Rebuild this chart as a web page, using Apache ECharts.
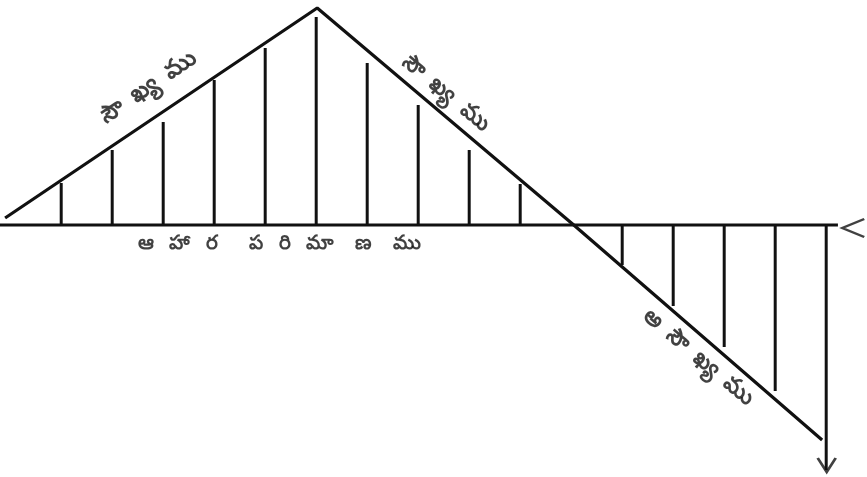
<!DOCTYPE html>
<html>
<head>
<meta charset="utf8"></meta>
<script src="https://cdn.jsdelivr.net/npm/echarts@6/dist/echarts.min.js"></script>
<style>
  body { margin: 0; background: #fff; }
  #main { width: 867px; height: 477px; }
</style>
</head>
<body>
<div id="main"></div>
<script type="text/javascript">
    // ahaara parimaanamu (step), saukhyamu at each step
    var steps = [1, 2, 3, 4, 5, 6, 7, 8, 9, 10, 11, 12, 13, 14, 15, 16];
    var utility = [42, 75, 103, 145, 177, 208, 162, 120, 75, 41, 0, -40, -81, -122, -166, -245];
    // the total-utility outline
    var curveX = [-0.1, 6.02, 11.05, 15.92];
    var curveY = [7, 217, 0, -215];
    // labels
    var noteText = ['సౌ  ఖ్య  ము', 'సౌ  ఖ్య  ము', 'అ  సౌ  ఖ్య  ము', 'ఆ   హా   ర      ప   రి   మా    ణ    ము'];
    var noteX = [2.7, 8.55, 13.5, 5.28];
    var noteY = [138, 132, -132, -18];
    var noteRotate = [34, -39, -40, 0];
    var noteSize = [24, 23, 23, 20];

    function draw() {
        var myChart = echarts.init(document.getElementById('main'));

        var bars = [];
        for (var i = 0; i < steps.length; i++) {
            bars.push([steps[i], utility[i]]);
        }
        var curve = [];
        for (var j = 0; j < curveX.length; j++) {
            curve.push([curveX[j], curveY[j]]);
        }
        var notes = [];
        for (var k = 0; k < noteText.length; k++) {
            notes.push({
                name: noteText[k],
                value: [noteX[k], noteY[k]],
                label: { rotate: noteRotate[k], fontSize: noteSize[k] }
            });
        }

        var ink = '#111';
        var option = {
            backgroundColor: '#fff',
            animation: false,
            grid: { left: 0, right: 0, top: 0, bottom: 0 },
            xAxis: { type: 'value', min: -0.2, max: 16.8, show: false, splitLine: { show: false } },
            yAxis: { type: 'value', min: -252, max: 225, show: false, splitLine: { show: false } },
            series: [
                {
                    type: 'line',
                    data: [[-0.2, 0], [16.23, 0]],
                    symbol: 'none',
                    lineStyle: { color: ink, width: 3 },
                    z: 3
                },
                {
                    type: 'bar',
                    data: bars,
                    barWidth: 3,
                    itemStyle: { color: ink },
                    z: 2
                },
                {
                    type: 'line',
                    data: curve,
                    symbol: 'none',
                    lineStyle: { color: ink, width: 3.2 },
                    z: 4
                },
                {
                    // "<" at the end of the base line and the arrow head below
                    type: 'scatter',
                    data: [
                        { value: [16.53, -3], symbol: 'path://M22,0 L0,10 L22,20', symbolSize: [22, 18] },
                        { value: [16.01, -240], symbol: 'path://M0,0 L9,15 L18,0', symbolSize: [18, 14] }
                    ],
                    itemStyle: { color: 'transparent', borderColor: ink, borderWidth: 2.5 },
                    z: 5
                },
                {
                    type: 'scatter',
                    data: notes,
                    symbolSize: 0,
                    label: {
                        show: true,
                        position: 'inside',
                        formatter: '{b}',
                        color: ink,
                        fontWeight: 'bold',
                        fontFamily: 'Noto Sans, sans-serif'
                    },
                    z: 6
                }
            ]
        };
        myChart.setOption(option);
    }

    draw();
</script>
</body>
</html>
